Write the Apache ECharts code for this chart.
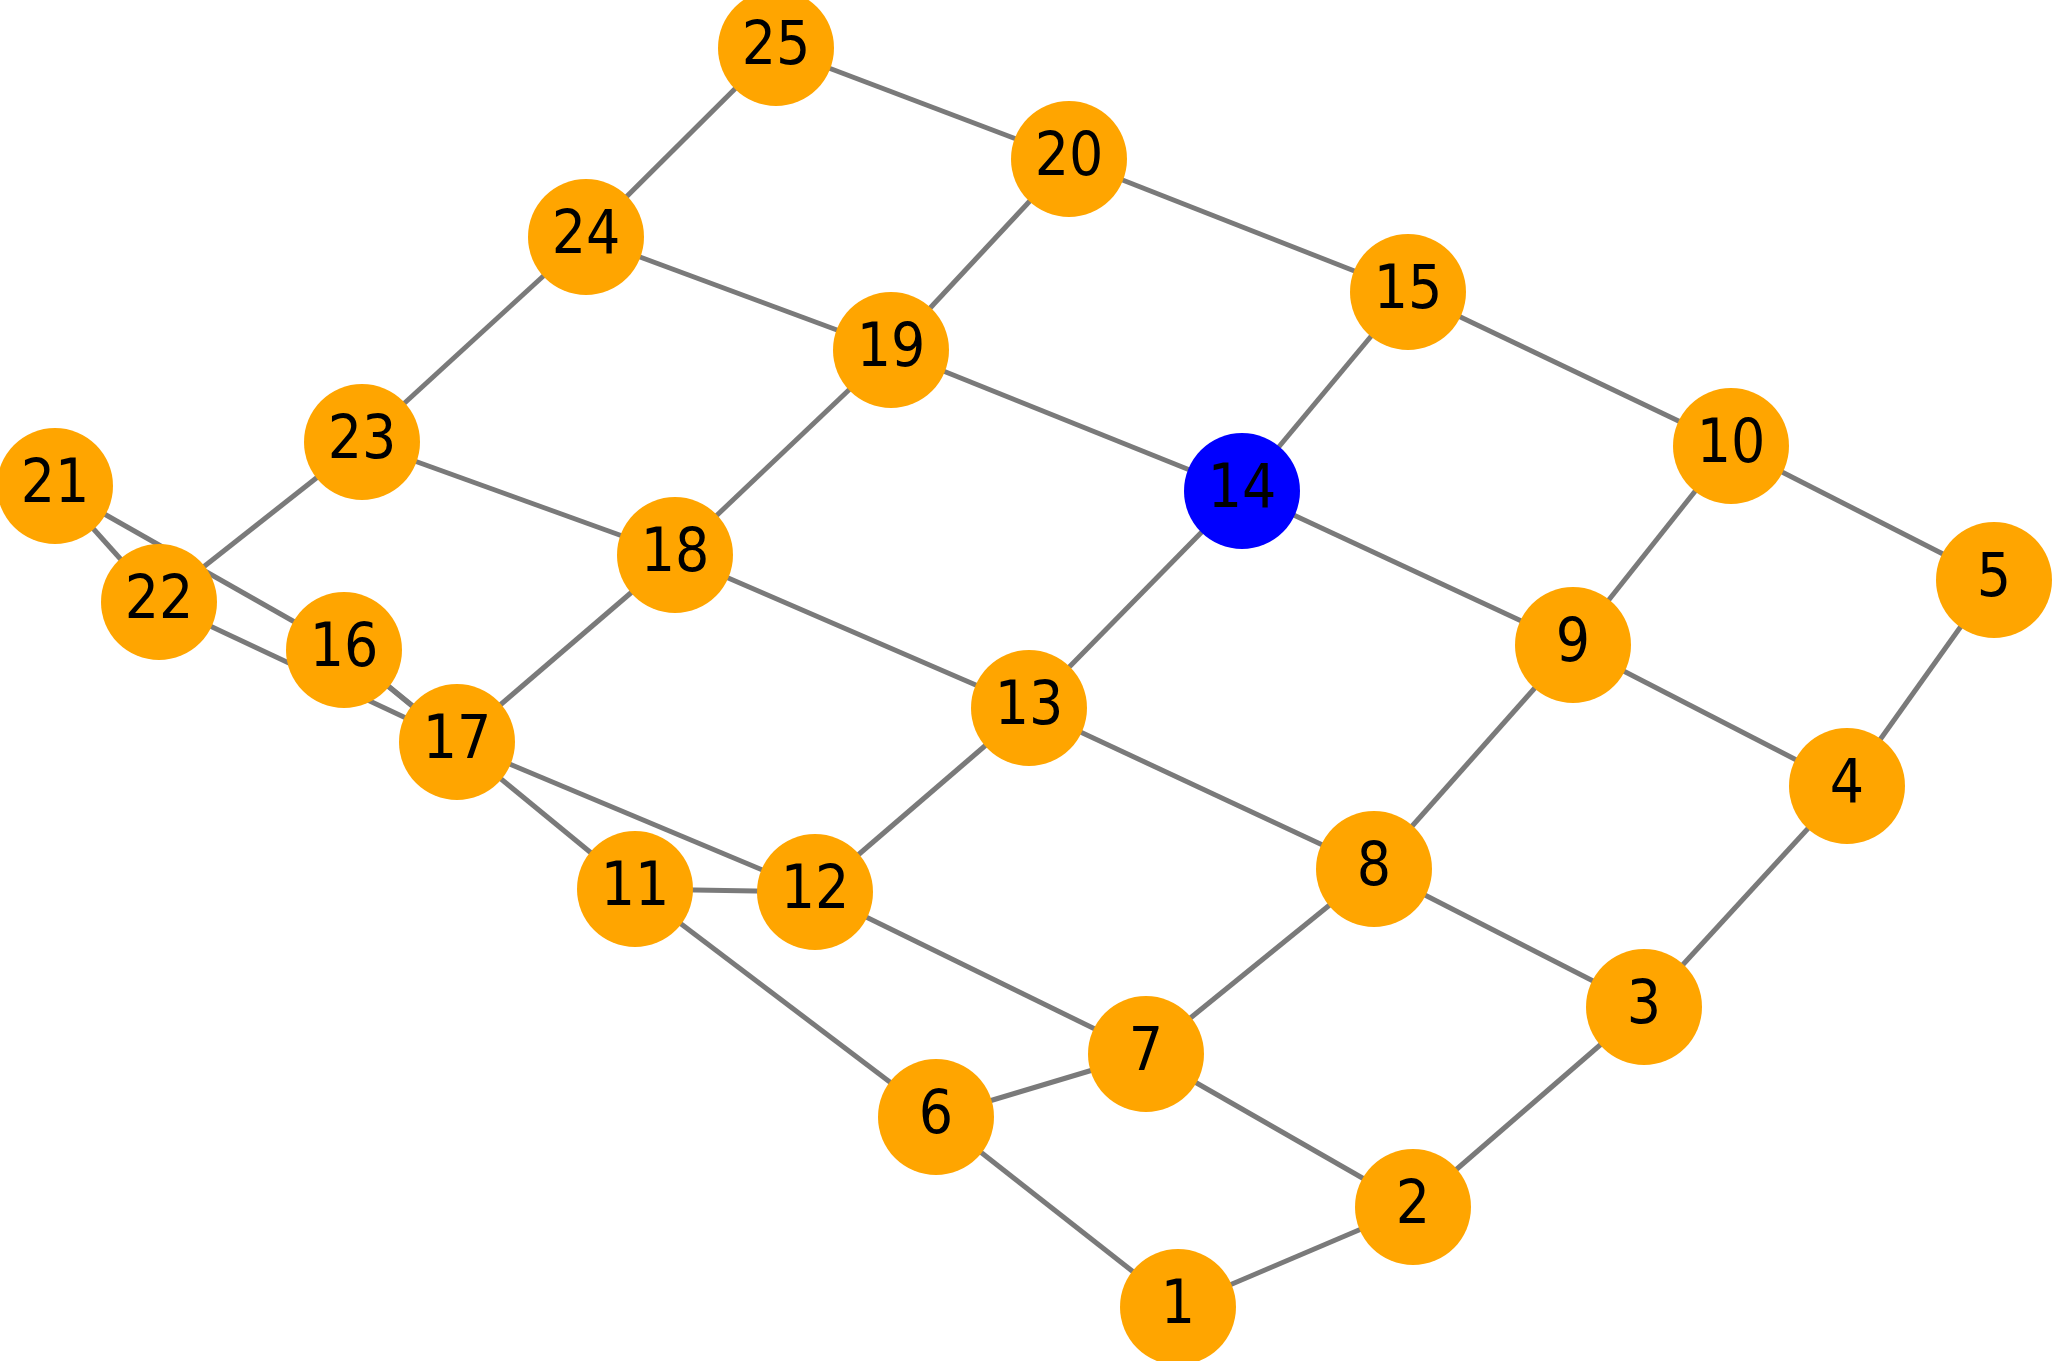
<!DOCTYPE html>
<html>
<head>
<meta charset="utf-8">
<script src="https://cdn.jsdelivr.net/npm/echarts@6/dist/echarts.min.js"></script>
<style>
html,body{margin:0;padding:0;background:#fff;}
#chart{width:2061px;height:1361px;}
</style>
</head>
<body>
<div id="chart"></div>
<script>
// Node labels
const nodeNames = ['1','2','3','4','5','6','7','8','9','10','11','12','13','14','15','16','17','18','19','20','21','22','23','24','25'];
// Layout positions (layout space, y grows downward)
const nodeX = [1178,1413,1644,1847,1994, 936,1146,1374,1573,1731, 635,815,1029,1242,1408, 344,457,675,891,1069, 55,159,362,586,776];
const nodeY = [1307,1207,1007,786,580, 1117,1054,869,645,446, 889,892,708,491,292, 650,742,555,350,159, 486,602,442,237,48];
// Highlighted node
const highlighted = ['14'];
// Edges (pairs of node labels)
const edges = [
  ['1','2'],['2','3'],['3','4'],['4','5'],
  ['6','7'],['7','8'],['8','9'],['9','10'],
  ['11','12'],['12','13'],['13','14'],['14','15'],
  ['16','17'],['17','18'],['18','19'],['19','20'],
  ['21','22'],['22','23'],['23','24'],['24','25'],
  ['1','6'],['6','11'],['11','16'],['16','21'],
  ['2','7'],['7','12'],['12','17'],['17','22'],
  ['3','8'],['8','13'],['13','18'],['18','23'],
  ['4','9'],['9','14'],['14','19'],['19','24'],
  ['5','10'],['10','15'],['15','20'],['20','25']
];

const chart = echarts.init(document.getElementById('chart'), null, {renderer:'canvas'});
const nodes = nodeNames.map((n,i)=>({
  name:n,
  value:[nodeX[i], nodeY[i]],
  itemStyle:{color: highlighted.includes(n) ? '#0000FF' : '#FFA500'}
}));
const links = edges.map(e=>({source:e[0], target:e[1]}));

chart.setOption({
  animation:false,
  backgroundColor:'#ffffff',
  grid:{left:0,right:0,top:0,bottom:0},
  xAxis:{type:'value',min:0,max:2061,show:false},
  yAxis:{type:'value',min:0,max:1361,inverse:true,show:false},
  series:[{
    type:'graph',
    coordinateSystem:'cartesian2d',
    symbol:'circle',
    symbolSize:116,
    data:nodes,
    links:links,
    lineStyle:{color:'#7a7a7a',width:5,opacity:1,curveness:0},
    label:{
      show:true,
      position:'inside',
      formatter:'{b}',
      color:'#000000',
      fontSize:60,
      fontFamily:"'DejaVu Sans Condensed','DejaVu Sans',sans-serif"
    },
    emphasis:{disabled:true}
  }]
});
</script>
</body>
</html>
